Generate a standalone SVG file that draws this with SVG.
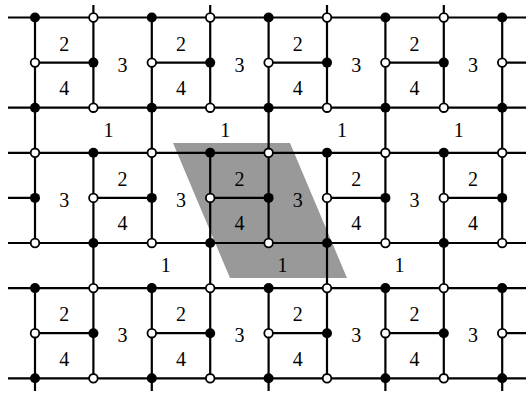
<svg xmlns="http://www.w3.org/2000/svg" width="526" height="395" viewBox="0 0 526 395">
<style>
.e{fill:none;stroke:#000;stroke-width:2.2}
.f{fill:#000;stroke:none}
.o{fill:#fff;stroke:#000;stroke-width:1.8}
</style>
<defs>
<circle id="F" r="5" class="f"/>
<circle id="O" r="4.3" class="o"/>
</defs>
<rect width="526" height="395" fill="#fff"/>
<polygon id="domain" points="173,143 290,143 347,278 230,278" fill="#999"/>
<g id="connectors" class="e">
<path d="M8 17.5H526M8 107.7H526M8 152.8H526M8 243H526M8 288.1H526M8 378.3H526"/>
<path d="M35 62.6H93.4M151.8 62.6H210.2M268.6 62.6H327M385.4 62.6H443.8M502.2 62.6H526"/>
<path d="M8 197.9H35M93.4 197.9H151.8M210.2 197.9H268.6M327 197.9H385.4M443.8 197.9H502.2"/>
<path d="M35 333.2H93.4M151.8 333.2H210.2M268.6 333.2H327M385.4 333.2H443.8M502.2 333.2H526"/>
<path d="M35 17.5V243M35 288.1V391M151.8 17.5V243M151.8 288.1V391M268.6 17.5V243M268.6 288.1V391M385.4 17.5V243M385.4 288.1V391M502.2 17.5V243M502.2 288.1V391"/>
<path d="M93.4 5V107.7M93.4 152.8V378.3M210.2 5V107.7M210.2 152.8V378.3M327 5V107.7M327 152.8V378.3M443.8 5V107.7M443.8 152.8V378.3"/>
</g>
<g id="nodes">
<g id="n0_0"><use href="#F" x="35" y="17.5"/></g>
<g id="n0_1"><use href="#O" x="93.4" y="17.5"/></g>
<g id="n0_2"><use href="#F" x="151.8" y="17.5"/></g>
<g id="n0_3"><use href="#O" x="210.2" y="17.5"/></g>
<g id="n0_4"><use href="#F" x="268.6" y="17.5"/></g>
<g id="n0_5"><use href="#O" x="327" y="17.5"/></g>
<g id="n0_6"><use href="#F" x="385.4" y="17.5"/></g>
<g id="n0_7"><use href="#O" x="443.8" y="17.5"/></g>
<g id="n0_8"><use href="#F" x="502.2" y="17.5"/></g>
<g id="n1_0"><use href="#O" x="35" y="62.6"/></g>
<g id="n1_1"><use href="#F" x="93.4" y="62.6"/></g>
<g id="n1_2"><use href="#O" x="151.8" y="62.6"/></g>
<g id="n1_3"><use href="#F" x="210.2" y="62.6"/></g>
<g id="n1_4"><use href="#O" x="268.6" y="62.6"/></g>
<g id="n1_5"><use href="#F" x="327" y="62.6"/></g>
<g id="n1_6"><use href="#O" x="385.4" y="62.6"/></g>
<g id="n1_7"><use href="#F" x="443.8" y="62.6"/></g>
<g id="n1_8"><use href="#O" x="502.2" y="62.6"/></g>
<g id="n2_0"><use href="#F" x="35" y="107.7"/></g>
<g id="n2_1"><use href="#O" x="93.4" y="107.7"/></g>
<g id="n2_2"><use href="#F" x="151.8" y="107.7"/></g>
<g id="n2_3"><use href="#O" x="210.2" y="107.7"/></g>
<g id="n2_4"><use href="#F" x="268.6" y="107.7"/></g>
<g id="n2_5"><use href="#O" x="327" y="107.7"/></g>
<g id="n2_6"><use href="#F" x="385.4" y="107.7"/></g>
<g id="n2_7"><use href="#O" x="443.8" y="107.7"/></g>
<g id="n2_8"><use href="#F" x="502.2" y="107.7"/></g>
<g id="n3_0"><use href="#O" x="35" y="152.8"/></g>
<g id="n3_1"><use href="#F" x="93.4" y="152.8"/></g>
<g id="n3_2"><use href="#O" x="151.8" y="152.8"/></g>
<g id="n3_3"><use href="#F" x="210.2" y="152.8"/></g>
<g id="n3_4"><use href="#O" x="268.6" y="152.8"/></g>
<g id="n3_5"><use href="#F" x="327" y="152.8"/></g>
<g id="n3_6"><use href="#O" x="385.4" y="152.8"/></g>
<g id="n3_7"><use href="#F" x="443.8" y="152.8"/></g>
<g id="n3_8"><use href="#O" x="502.2" y="152.8"/></g>
<g id="n4_0"><use href="#F" x="35" y="197.9"/></g>
<g id="n4_1"><use href="#O" x="93.4" y="197.9"/></g>
<g id="n4_2"><use href="#F" x="151.8" y="197.9"/></g>
<g id="n4_3"><use href="#O" x="210.2" y="197.9"/></g>
<g id="n4_4"><use href="#F" x="268.6" y="197.9"/></g>
<g id="n4_5"><use href="#O" x="327" y="197.9"/></g>
<g id="n4_6"><use href="#F" x="385.4" y="197.9"/></g>
<g id="n4_7"><use href="#O" x="443.8" y="197.9"/></g>
<g id="n4_8"><use href="#F" x="502.2" y="197.9"/></g>
<g id="n5_0"><use href="#O" x="35" y="243"/></g>
<g id="n5_1"><use href="#F" x="93.4" y="243"/></g>
<g id="n5_2"><use href="#O" x="151.8" y="243"/></g>
<g id="n5_3"><use href="#F" x="210.2" y="243"/></g>
<g id="n5_4"><use href="#O" x="268.6" y="243"/></g>
<g id="n5_5"><use href="#F" x="327" y="243"/></g>
<g id="n5_6"><use href="#O" x="385.4" y="243"/></g>
<g id="n5_7"><use href="#F" x="443.8" y="243"/></g>
<g id="n5_8"><use href="#O" x="502.2" y="243"/></g>
<g id="n6_0"><use href="#F" x="35" y="288.1"/></g>
<g id="n6_1"><use href="#O" x="93.4" y="288.1"/></g>
<g id="n6_2"><use href="#F" x="151.8" y="288.1"/></g>
<g id="n6_3"><use href="#O" x="210.2" y="288.1"/></g>
<g id="n6_4"><use href="#F" x="268.6" y="288.1"/></g>
<g id="n6_5"><use href="#O" x="327" y="288.1"/></g>
<g id="n6_6"><use href="#F" x="385.4" y="288.1"/></g>
<g id="n6_7"><use href="#O" x="443.8" y="288.1"/></g>
<g id="n6_8"><use href="#F" x="502.2" y="288.1"/></g>
<g id="n7_0"><use href="#O" x="35" y="333.2"/></g>
<g id="n7_1"><use href="#F" x="93.4" y="333.2"/></g>
<g id="n7_2"><use href="#O" x="151.8" y="333.2"/></g>
<g id="n7_3"><use href="#F" x="210.2" y="333.2"/></g>
<g id="n7_4"><use href="#O" x="268.6" y="333.2"/></g>
<g id="n7_5"><use href="#F" x="327" y="333.2"/></g>
<g id="n7_6"><use href="#O" x="385.4" y="333.2"/></g>
<g id="n7_7"><use href="#F" x="443.8" y="333.2"/></g>
<g id="n7_8"><use href="#O" x="502.2" y="333.2"/></g>
<g id="n8_0"><use href="#F" x="35" y="378.3"/></g>
<g id="n8_1"><use href="#O" x="93.4" y="378.3"/></g>
<g id="n8_2"><use href="#F" x="151.8" y="378.3"/></g>
<g id="n8_3"><use href="#O" x="210.2" y="378.3"/></g>
<g id="n8_4"><use href="#F" x="268.6" y="378.3"/></g>
<g id="n8_5"><use href="#O" x="327" y="378.3"/></g>
<g id="n8_6"><use href="#F" x="385.4" y="378.3"/></g>
<g id="n8_7"><use href="#O" x="443.8" y="378.3"/></g>
<g id="n8_8"><use href="#F" x="502.2" y="378.3"/></g>
</g>
<g id="labels" font-family="'Liberation Serif', 'Times New Roman', serif" font-size="20" fill="#000" text-anchor="middle">
<text x="64.2" y="50.7">2</text><text x="64.2" y="95">4</text><text x="122.6" y="71.7">3</text>
<text x="181" y="50.7">2</text><text x="181" y="95">4</text><text x="239.4" y="71.7">3</text>
<text x="297.8" y="50.7">2</text><text x="297.8" y="95">4</text><text x="356.2" y="71.7">3</text>
<text x="414.6" y="50.7">2</text><text x="414.6" y="95">4</text><text x="473" y="71.7">3</text>
<text x="108.4" y="137">1</text><text x="225.2" y="137">1</text><text x="342" y="137">1</text><text x="458.8" y="137">1</text>
<text x="64.2" y="207">3</text><text x="122.6" y="185.5">2</text><text x="122.6" y="230">4</text>
<text x="181" y="207">3</text><text x="239.4" y="185.5">2</text><text x="239.4" y="230">4</text>
<text x="297.8" y="207">3</text><text x="356.2" y="185.5">2</text><text x="356.2" y="230">4</text>
<text x="414.6" y="207">3</text><text x="473" y="185.5">2</text><text x="473" y="230">4</text>
<text x="165.8" y="272">1</text><text x="282.6" y="272">1</text><text x="399.4" y="272">1</text>
<text x="64.2" y="321.3">2</text><text x="64.2" y="365.6">4</text><text x="122.6" y="342.3">3</text>
<text x="181" y="321.3">2</text><text x="181" y="365.6">4</text><text x="239.4" y="342.3">3</text>
<text x="297.8" y="321.3">2</text><text x="297.8" y="365.6">4</text><text x="356.2" y="342.3">3</text>
<text x="414.6" y="321.3">2</text><text x="414.6" y="365.6">4</text><text x="473" y="342.3">3</text>
</g>
</svg>
